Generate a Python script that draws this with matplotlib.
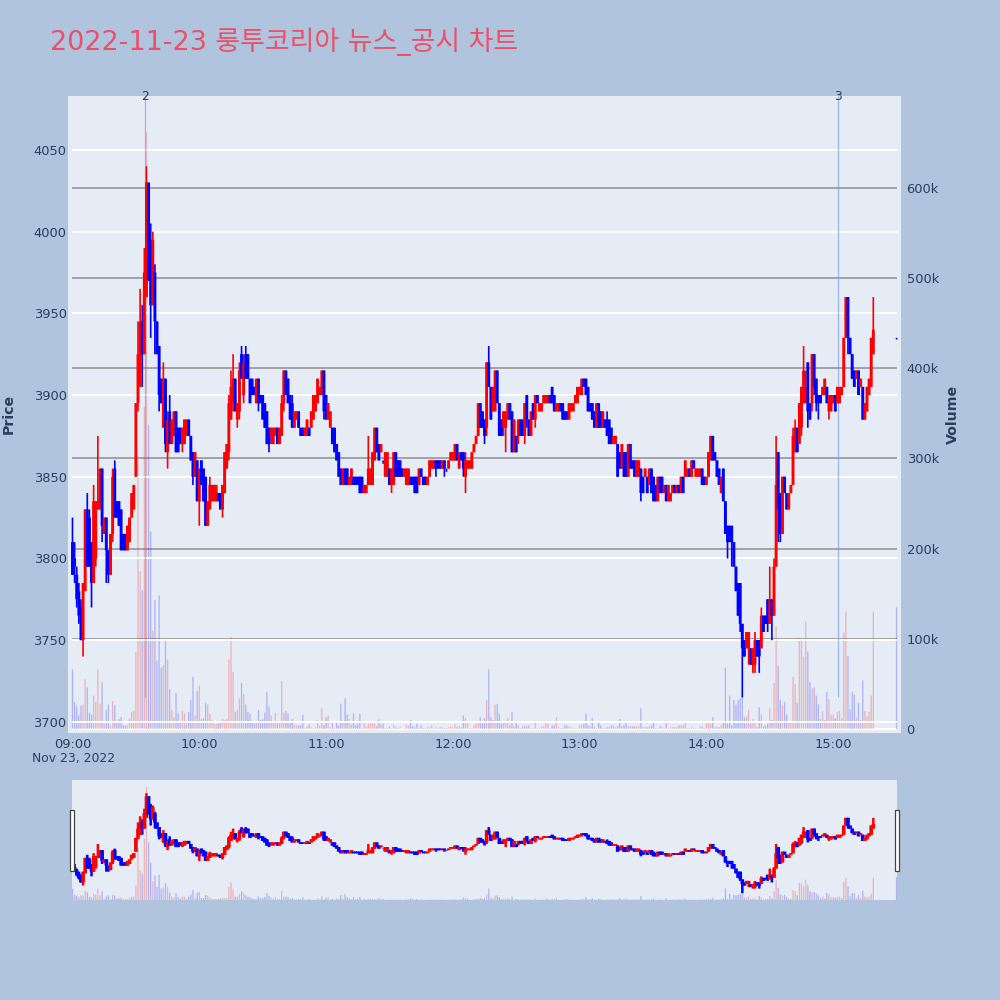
import matplotlib
matplotlib.use('Agg')
import matplotlib.pyplot as plt

TITLE = '2022-11-23 룽투코리아 뉴스_공시 차트'

# minutes after 09:00, one candle per minute up to 15:19, then the closing print
minutes = list(range(380)) + [390]

opens = [
    3810,3800,3790,3780,3770,3750,3780,3830,3825,3810, 3785,3800,3830,3830,3855,3815,3825,3805,3790,3815,
    3855,3835,3835,3830,3815,3815,3805,3810,3825,3830, 3850,3895,3905,3945,3925,3960,4030,3995,3955,3975,
    3945,3930,3910,3880,3910,3865,3890,3870,3875,3890, 3880,3880,3870,3870,3875,3885,3875,3865,3850,3860,
    3835,3860,3855,3850,3820,3830,3835,3835,3835,3840, 3840,3830,3840,3855,3865,3885,3895,3910,3885,3890,
    3925,3900,3925,3925,3910,3910,3905,3895,3910,3900, 3900,3895,3890,3880,3875,3870,3875,3880,3870,3875,
    3895,3915,3910,3900,3895,3880,3885,3890,3880,3880, 3875,3875,3880,3880,3885,3890,3895,3900,3900,3915,
    3900,3885,3880,3880,3880,3870,3865,3855,3845,3855, 3855,3845,3845,3850,3850,3850,3850,3850,3840,3840,
    3845,3845,3845,3860,3880,3870,3865,3860,3850,3850, 3855,3845,3845,3865,3860,3860,3855,3850,3845,3845,
    3850,3850,3850,3850,3845,3855,3850,3850,3845,3850, 3855,3855,3860,3860,3860,3855,3860,3855,3855,3860,
    3860,3860,3870,3855,3865,3865,3850,3855,3855,3855, 3865,3870,3875,3895,3890,3885,3880,3920,3905,3890,
    3890,3915,3895,3885,3880,3880,3885,3895,3890,3865, 3875,3875,3885,3885,3875,3900,3885,3875,3895,3885,
    3900,3890,3890,3895,3895,3895,3900,3905,3900,3890, 3890,3895,3895,3890,3890,3885,3890,3890,3895,3895,
    3900,3900,3910,3910,3905,3895,3895,3890,3880,3895, 3890,3880,3885,3885,3885,3880,3870,3870,3870,3865,
    3855,3865,3865,3850,3870,3860,3860,3850,3850,3855, 3850,3850,3850,3845,3855,3850,3845,3835,3850,3850,
    3840,3845,3835,3835,3840,3845,3840,3845,3840,3850, 3850,3850,3855,3850,3860,3850,3850,3850,3855,3850,
    3845,3850,3860,3875,3865,3860,3855,3840,3855,3835, 3820,3820,3820,3810,3795,3785,3785,3760,3750,3745,
    3745,3745,3735,3735,3750,3750,3745,3765,3765,3775, 3760,3775,3765,3795,3865,3840,3815,3850,3840,3830,
    3840,3845,3865,3880,3870,3880,3895,3895,3920,3895, 3895,3925,3910,3900,3900,3900,3900,3905,3890,3890,
    3895,3900,3895,3895,3900,3905,3935,3960,3935,3925, 3915,3910,3915,3905,3905,3885,3890,3900,3905,3925,
    3935,
]
highs = [
    3825,3810,3795,3785,3775,3785,3830,3840,3830,3810, 3845,3835,3875,3855,3855,3825,3825,3805,3815,3855,
    3860,3835,3835,3830,3815,3815,3820,3825,3840,3845, 3895,3945,3965,3955,3990,4040,4030,4005,4000,3980,
    3945,3930,3910,3920,3910,3890,3900,3885,3890,3890, 3880,3880,3880,3885,3885,3885,3875,3865,3865,3860,
    3855,3860,3855,3850,3835,3850,3845,3845,3845,3840, 3840,3845,3865,3870,3900,3915,3925,3910,3895,3920,
    3930,3925,3930,3925,3910,3910,3905,3910,3910,3900, 3900,3895,3890,3880,3880,3880,3880,3880,3880,3900,
    3915,3915,3910,3900,3900,3890,3890,3890,3880,3880, 3880,3885,3880,3890,3900,3900,3910,3905,3915,3915,
    3900,3895,3890,3880,3880,3870,3865,3855,3855,3855, 3855,3850,3855,3850,3850,3850,3850,3850,3845,3845,
    3875,3855,3865,3880,3880,3870,3870,3860,3865,3865, 3855,3855,3865,3865,3860,3860,3855,3855,3855,3855,
    3850,3850,3850,3850,3855,3855,3850,3850,3850,3860, 3860,3860,3860,3860,3860,3860,3860,3855,3860,3865,
    3865,3870,3870,3865,3865,3865,3865,3860,3860,3865, 3870,3875,3895,3895,3890,3885,3920,3930,3905,3905,
    3915,3915,3895,3885,3890,3890,3895,3895,3890,3885, 3875,3885,3885,3885,3895,3900,3885,3890,3895,3900,
    3900,3895,3895,3900,3900,3900,3900,3905,3900,3895, 3895,3895,3895,3890,3890,3895,3895,3895,3900,3905,
    3905,3910,3910,3910,3905,3895,3895,3890,3895,3895, 3890,3890,3885,3890,3885,3880,3875,3875,3870,3865,
    3870,3865,3865,3870,3870,3860,3860,3860,3860,3855, 3850,3855,3850,3855,3855,3850,3845,3850,3850,3850,
    3845,3845,3845,3840,3845,3845,3845,3845,3850,3850, 3860,3855,3855,3860,3860,3855,3855,3855,3855,3850,
    3850,3865,3875,3875,3865,3860,3855,3850,3855,3835, 3820,3820,3820,3810,3795,3785,3785,3760,3750,3755,
    3755,3745,3745,3755,3750,3750,3770,3765,3765,3775, 3795,3775,3800,3875,3865,3840,3850,3850,3840,3840,
    3845,3880,3885,3880,3895,3905,3930,3915,3920,3895, 3925,3925,3910,3900,3900,3905,3910,3905,3900,3900,
    3900,3900,3905,3905,3905,3935,3960,3960,3935,3925, 3915,3915,3915,3910,3905,3895,3905,3910,3935,3960,
    3935,
]
lows = [
    3790,3785,3770,3760,3750,3740,3780,3795,3795,3770, 3785,3795,3830,3830,3810,3815,3785,3785,3790,3810,
    3825,3825,3820,3805,3805,3805,3805,3810,3825,3830, 3850,3890,3905,3905,3925,3960,3970,3935,3955,3925,
    3925,3890,3895,3880,3865,3855,3870,3870,3875,3865, 3865,3870,3865,3870,3875,3875,3860,3845,3850,3835,
    3820,3845,3835,3820,3820,3830,3835,3835,3835,3835, 3830,3825,3840,3855,3860,3885,3890,3890,3880,3885,
    3910,3895,3910,3910,3895,3900,3900,3895,3890,3895, 3885,3880,3870,3865,3870,3870,3875,3870,3870,3875,
    3890,3900,3895,3885,3880,3880,3885,3880,3875,3875, 3875,3875,3875,3880,3885,3890,3895,3900,3900,3885,
    3885,3885,3880,3870,3865,3860,3850,3845,3845,3845, 3845,3845,3845,3845,3845,3845,3840,3840,3840,3840,
    3845,3845,3845,3860,3865,3860,3865,3858,3850,3850, 3845,3840,3845,3850,3850,3850,3850,3850,3845,3845,
    3845,3845,3840,3840,3845,3850,3845,3845,3845,3850, 3855,3855,3850,3855,3855,3855,3850,3853,3855,3860,
    3860,3860,3860,3855,3860,3850,3840,3855,3855,3855, 3865,3870,3875,3880,3880,3870,3875,3905,3885,3890,
    3890,3895,3875,3875,3875,3865,3885,3885,3865,3865, 3865,3870,3875,3875,3870,3880,3875,3875,3885,3880,
    3895,3890,3890,3895,3895,3895,3895,3895,3890,3890, 3890,3890,3885,3885,3885,3885,3890,3890,3895,3895,
    3900,3900,3905,3900,3890,3890,3885,3880,3880,3880, 3880,3880,3880,3875,3870,3870,3870,3870,3850,3855,
    3855,3850,3850,3850,3855,3855,3850,3850,3850,3835, 3840,3850,3840,3845,3840,3835,3835,3835,3840,3840,
    3840,3835,3835,3835,3840,3840,3840,3840,3840,3840, 3850,3850,3850,3850,3855,3850,3850,3850,3845,3845,
    3845,3850,3860,3860,3860,3850,3845,3840,3835,3815, 3800,3810,3795,3795,3780,3765,3755,3715,3740,3745,
    3735,3735,3730,3730,3740,3730,3745,3755,3760,3755, 3760,3750,3765,3795,3810,3810,3815,3840,3830,3830,
    3840,3845,3865,3865,3870,3875,3895,3895,3880,3885, 3890,3900,3890,3885,3895,3900,3900,3895,3885,3890,
    3895,3890,3895,3895,3900,3905,3935,3925,3925,3910, 3905,3910,3900,3905,3885,3885,3890,3900,3905,3925,
    3934,
]
closes = [
    3790,3795,3775,3765,3750,3785,3830,3795,3795,3785, 3835,3835,3835,3855,3820,3825,3805,3790,3815,3850,
    3825,3825,3820,3805,3805,3805,3820,3825,3840,3845, 3895,3925,3945,3925,3975,4030,3970,3955,3995,3945,
    3925,3900,3895,3910,3870,3885,3870,3885,3890,3865, 3865,3870,3880,3885,3885,3875,3860,3850,3865,3835,
    3855,3845,3835,3820,3835,3845,3845,3845,3845,3835, 3830,3845,3865,3870,3895,3905,3910,3890,3895,3915,
    3910,3920,3910,3910,3895,3900,3900,3910,3895,3895, 3885,3880,3870,3870,3880,3880,3880,3870,3880,3895,
    3915,3900,3895,3885,3880,3890,3890,3880,3875,3875, 3880,3885,3875,3890,3900,3900,3910,3905,3915,3890,
    3885,3895,3890,3870,3865,3860,3850,3845,3855,3845, 3845,3850,3855,3845,3845,3845,3840,3840,3845,3845,
    3855,3855,3865,3880,3865,3860,3870,3860,3865,3865, 3845,3855,3865,3850,3850,3850,3850,3855,3855,3855,
    3845,3845,3840,3840,3855,3850,3845,3845,3850,3860, 3860,3860,3855,3855,3855,3860,3855,3855,3860,3865,
    3865,3870,3860,3865,3860,3855,3860,3860,3860,3865, 3870,3875,3895,3880,3880,3875,3920,3905,3885,3905,
    3915,3895,3875,3875,3890,3890,3895,3885,3865,3885, 3865,3885,3875,3875,3895,3885,3875,3890,3885,3900,
    3895,3895,3895,3900,3900,3900,3895,3895,3890,3895, 3895,3890,3885,3885,3885,3895,3895,3895,3900,3905,
    3905,3910,3905,3900,3890,3890,3885,3880,3895,3880, 3880,3890,3880,3875,3870,3870,3875,3875,3850,3855,
    3870,3850,3850,3870,3855,3855,3850,3860,3860,3840, 3840,3855,3840,3855,3840,3835,3835,3850,3840,3840,
    3845,3835,3845,3840,3845,3840,3845,3840,3850,3840, 3860,3855,3850,3860,3855,3855,3855,3855,3845,3845,
    3850,3865,3875,3860,3860,3850,3845,3850,3835,3815, 3810,3810,3810,3795,3780,3765,3760,3745,3740,3755,
    3755,3735,3745,3750,3740,3740,3765,3755,3760,3760, 3775,3765,3795,3845,3830,3815,3850,3840,3830,3840,
    3845,3875,3880,3865,3895,3905,3915,3905,3890,3885, 3925,3905,3895,3895,3895,3905,3910,3895,3900,3900,
    3900,3890,3905,3905,3905,3935,3960,3935,3925,3910, 3905,3915,3900,3910,3885,3895,3905,3910,3935,3940,
    3935,
]
# volume in thousands of shares
volumes = [
    66,30,25,15,26,27,55,46,18,16, 37,30,66,28,52,6,21,27,4,31,
    26,9,11,13,4,4,4,12,19,20, 85,300,175,154,357,662,337,219,109,143,
    76,148,68,71,98,77,44,21,13,40, 17,7,20,17,7,19,32,58,15,42,
    48,11,12,29,27,17,10,6,6,6, 7,11,10,11,77,102,63,19,21,34,
    51,39,27,19,17,9,6,7,21,10, 11,18,41,25,15,8,18,6,7,53,
    18,20,17,7,11,5,4,4,4,16, 1,3,5,2,1,2,10,4,23,4,
    13,15,2,7,1,7,4,28,7,34, 16,11,5,17,4,6,17,1,8,3,
    6,8,7,6,3,11,5,6,1,1, 3,1,4,2,1,2,0,1,4,4,
    10,3,2,6,1,4,1,1,2,2, 4,1,2,1,2,2,1,1,2,3,
    2,5,2,3,2,15,12,8,1,1, 4,6,8,13,6,12,32,66,13,10,
    27,28,17,6,8,9,12,4,19,3, 7,4,1,3,4,3,4,1,1,9,
    1,1,3,3,8,6,1,4,4,13, 2,1,1,4,4,3,2,1,1,1,
    4,5,5,17,4,3,12,2,1,7, 4,1,1,2,2,4,4,2,3,11,
    3,4,7,3,3,3,3,3,3,23, 2,2,2,3,4,8,1,1,3,2,
    1,9,1,2,2,2,2,4,4,4, 8,1,1,2,1,1,1,3,3,1,
    6,7,6,13,2,2,2,4,8,68, 6,37,4,32,27,32,34,36,13,14,
    21,6,11,8,2,24,16,3,4,6, 23,10,51,114,70,32,26,30,16,7,
    7,58,50,29,101,98,80,119,86,52, 45,46,37,27,11,20,10,41,33,16,
    16,12,19,20,12,107,130,81,22,41, 38,13,29,10,54,20,14,19,37,130,
    135,
]

price_ticks = [3700, 3750, 3800, 3850, 3900, 3950, 4000, 4050]
volume_ticks = [0, 100, 200, 300, 400, 500, 600]
volume_labels = ['0', '100k', '200k', '300k', '400k', '500k', '600k']
time_ticks = [0, 60, 120, 180, 240, 300, 360]
time_labels = ['09:00', '10:00', '11:00', '12:00', '13:00', '14:00', '15:00']
news_minutes = [34.5, 362.3]
news_labels = ['2', '3']

INK = '#2a3f5f'
PAGE = '#b0c4de'
PLOT = '#e5ecf6'
UP = '#ff0000'
DOWN = '#0000ff'

plt.rcParams['font.family'] = ['DejaVu Sans', 'Noto Sans CJK KR']


def add_axes(fig, left, top, right, bottom):
    # position given in image pixels of the 1000x1000 picture
    return fig.add_axes([left / 1000, 1 - bottom / 1000, (right - left) / 1000, (bottom - top) / 1000])


def candle_colors():
    return [UP if c > o else DOWN for o, c in zip(opens, closes)]


def draw_candles(ax, wick, body):
    colors = candle_colors()
    w = ax.vlines(minutes, lows, highs, colors=colors, linewidth=wick, zorder=3)
    b = ax.vlines(minutes, opens, closes, colors=colors, linewidth=body, zorder=3)
    w.set_snap(False)
    b.set_snap(False)


def draw_volume(ax):
    bars = ax.bar(minutes, volumes, width=0.62, color=candle_colors(), alpha=0.24, linewidth=0, zorder=2)
    for bar in bars:
        bar.set_snap(False)


def hide_spines(ax):
    for spine in ax.spines.values():
        spine.set_visible(False)


fig = plt.figure(figsize=(10, 10), dpi=100, facecolor=PAGE)

# main chart: volume goes underneath, candles on a clear axes on top
ax_vol = add_axes(fig, 68, 96, 901, 732.5)
ax_vol.set_facecolor(PLOT)
ax_vol.set_xlim(-2.13, 392.1)
ax_vol.set_ylim(-3.9, 701.8)
ax_vol.hlines(volume_ticks[1:], -0.2, 390.2, colors='#8f8f8f', linewidth=1.1, zorder=1)
ax_vol.hlines([0], -0.2, 390.2, colors='white', linewidth=1.6, zorder=1)
draw_volume(ax_vol)
ax_vol.set_xticks(time_ticks, time_labels)
hide_spines(ax_vol)

ax_price = ax_vol.twinx()
ax_price.patch.set_visible(False)
ax_price.set_xlim(-2.13, 392.1)
ax_price.set_ylim(3693.5, 4083)
ax_price.hlines(price_ticks, -0.2, 390.2, colors='white', linewidth=1.4, zorder=1)
hide_spines(ax_price)

# twinx moves the ticks around, so set the sides after it
ax_vol.yaxis.tick_right()
ax_vol.set_yticks(volume_ticks, volume_labels)
ax_vol.tick_params(length=0, labelsize=9.4, labelcolor=INK, pad=4)
ax_price.yaxis.tick_left()
ax_price.set_yticks(price_ticks, [str(p) for p in price_ticks])
ax_price.tick_params(length=0, labelsize=9.4, labelcolor=INK, pad=1)

for m, label in zip(news_minutes, news_labels):
    ax_price.vlines(m, 3715, 4083, colors='#6f8ff0', linewidth=0.9, alpha=0.6, zorder=2)
    ax_price.text(m, 4083, label, ha='center', va='center', fontsize=8.8, color=INK, clip_on=False)
draw_candles(ax_price, 1.2, 2.1)

# range slider under the chart, same data
ax_slider_vol = add_axes(fig, 72, 780, 897, 900)
ax_slider_vol.set_facecolor(PLOT)
ax_slider_vol.set_xlim(-0.24, 390.2)
ax_slider_vol.set_ylim(0, 702)
draw_volume(ax_slider_vol)
ax_slider_vol.set_xticks([])
ax_slider_vol.set_yticks([])
hide_spines(ax_slider_vol)

ax_slider = ax_slider_vol.twinx()
ax_slider.patch.set_visible(False)
ax_slider.set_xlim(-0.24, 390.2)
ax_slider.set_ylim(3693, 4083)
ax_slider.set_yticks([])
hide_spines(ax_slider)
draw_candles(ax_slider, 1.8, 2.6)

# slider grips
for left in [69.5, 895.3]:
    fig.add_artist(plt.Rectangle((left / 1000, 1 - 870.5 / 1000), 4 / 1000, 60.5 / 1000,
                                 facecolor='white', edgecolor='#444444', linewidth=0.9,
                                 transform=fig.transFigure))

fig.text(50 / 1000, 1 - 50 / 1000, TITLE, fontsize=19.4, color='#ee4f68', ha='left', va='baseline')
fig.text(32 / 1000, 1 - 762 / 1000, 'Nov 23, 2022', fontsize=8.9, color=INK, ha='left', va='baseline')
fig.text(9 / 1000, 1 - 414 / 1000, 'Price', fontsize=10.2, fontweight='bold', color=INK,
         rotation=90, ha='center', va='center')
fig.text(953 / 1000, 1 - 414 / 1000, 'Volume', fontsize=10.2, fontweight='bold', color=INK,
         rotation=90, ha='center', va='center')

fig.savefig('out.png', dpi=100, facecolor=PAGE)
